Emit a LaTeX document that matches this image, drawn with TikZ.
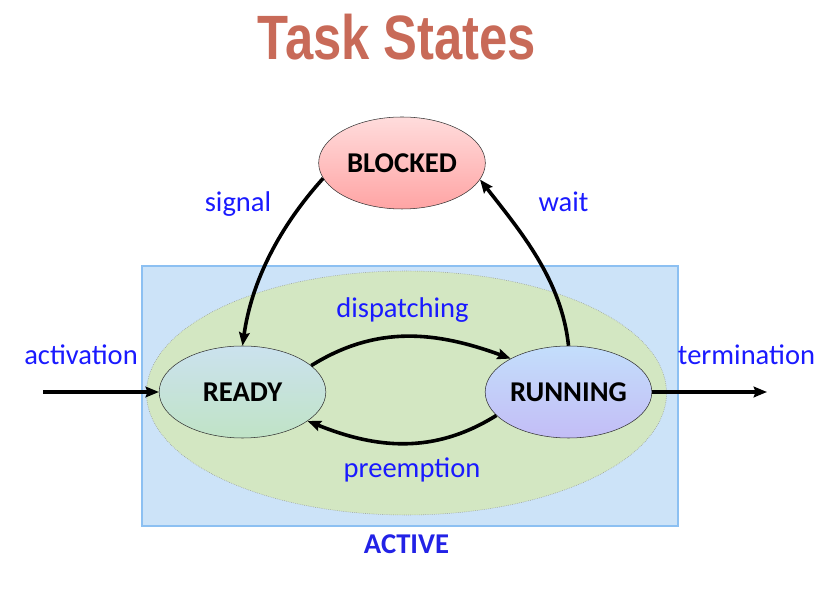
\documentclass[tikz,border=0pt]{standalone}
\usepackage{fontspec}
\setmainfont{Carlito}
\newfontfamily\titlefont{Liberation Sans}
\usetikzlibrary{arrows.meta,shapes.geometric}

\definecolor{titlered}{HTML}{C86A58}
\definecolor{lblblue}{HTML}{1A1AFF}
\definecolor{activeblue}{HTML}{2222E6}
\definecolor{boxfill}{HTML}{CCE3F8}
\definecolor{boxline}{HTML}{8CC0F2}
\definecolor{grnfill}{HTML}{D3E7C2}
\definecolor{rdytop}{HTML}{CBE2EE}
\definecolor{rdybot}{HTML}{C0E3C6}
\definecolor{runtop}{HTML}{C3DEFB}
\definecolor{runbot}{HTML}{C3BDF6}
\definecolor{blktop}{HTML}{FFDCDC}
\definecolor{blkbot}{HTML}{FFA4A4}

\begin{document}
\begin{tikzpicture}[x=0.75pt,y=0.75pt,
  state/.style={ellipse,draw=black!80,thin,inner sep=0pt,minimum width=125pt,minimum height=69pt,font=\fontsize{21.5}{25}\selectfont\bfseries},
  lbl/.style={text=lblblue,anchor=base,inner sep=0pt,font=\fontsize{21.4}{25}\selectfont},
  flow/.style={line width=2.7pt,-{Stealth[length=10pt,width=8pt,inset=1.5pt]}}]
\useasboundingbox (0,0) rectangle (830,588);
% title
\node[anchor=base,text=titlered,inner sep=0pt] (title) at (397,528)
   {\scalebox{0.81}[1]{\titlefont\fontsize{47}{52}\selectfont\bfseries Task States}};
% active area
\node[rectangle,draw=boxline,line width=1.4pt,fill=boxfill,minimum width=402pt,minimum height=195pt] (activebox) at (410,192) {};
\node[ellipse,draw=black!45,densely dotted,thin,fill=grnfill,minimum width=390pt,minimum height=183pt] (activeell) at (406.5,195) {};
% states
\node[state,top color=blktop,bottom color=blkbot] (blocked) at (402,425) {BLOCKED};
\node[state,top color=rdytop,bottom color=rdybot] (ready) at (242.5,196) {READY};
\node[state,top color=runtop,bottom color=runbot] (running) at (568.5,196) {RUNNING};
\coordinate (actin) at (43,196);
\coordinate (termout) at (767,196);
% transitions
\draw[flow] (blocked.191) to[out=228,in=82,looseness=0.9] (ready.north);
\draw[flow] (running.north) to[out=96,in=-52,looseness=0.9] (blocked.-12);
\draw[flow] (ready.21) to[out=32,in=160,looseness=1.0] (running.150);
\draw[flow] (running.198) to[out=212,in=-22,looseness=1.0] (ready.-24);
\draw[flow] (actin) -- (ready.west);
\draw[flow] (running.east) -- (termout);
% labels
\foreach \x/\y/\txt in %
{81/223/activation,746.5/223/termination,238/376/signal,563.5/376/wait,402.5/270/dispatching,412/110/preemption} {
   \node[lbl] (lbl-\txt) at (\x,\y) {\txt};
}
\node[lbl,text=activeblue,font=\fontsize{21.5}{25}\selectfont\bfseries] (activelbl) at (406.5,35) {ACTIVE};
\end{tikzpicture}
\end{document}
